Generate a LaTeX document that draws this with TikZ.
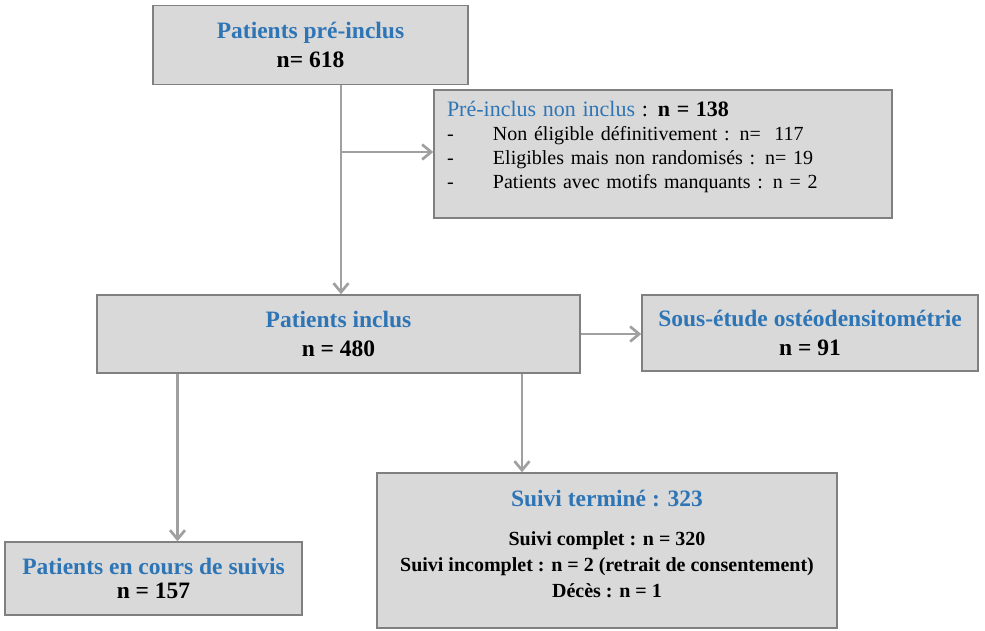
\documentclass[tikz,border=0pt]{standalone}
\usepackage{fontspec}
\setmainfont{Liberation Serif}
\usetikzlibrary{arrows.meta}
\definecolor{titleblue}{HTML}{2E75B6}
\definecolor{boxfill}{HTML}{D9D9D9}
\definecolor{boxline}{HTML}{808080}
\definecolor{arrowgray}{HTML}{A0A0A0}
\newcommand{\titre}[1]{\textcolor{titleblue}{\bfseries #1}}

\begin{document}
\begin{tikzpicture}[x=1pt,y=-1pt,>={Straight Barb[length=9pt,width=15pt]},
  box/.style={draw=boxline,fill=boxfill,line width=1.5pt,align=center,inner sep=0pt,
    font=\fontsize{23.5}{29}\selectfont\bfseries},
  arr/.style={->,draw=arrowgray,line width=2.7pt}]
  \useasboundingbox (0,0) rectangle (985,630);
  \node[box,minimum width=315pt,minimum height=79pt] (pre) at (310.5,45)
    {\titre{Patients pré-inclus}\\n= 618};
  \node[box,minimum height=128pt,text width=432pt,inner xsep=13pt,align=left,
    font=\fontsize{20}{24}\selectfont] (exclus) at (663,154)
    {{\fontsize{22}{26}\selectfont\textcolor{titleblue}{Pré-inclus non inclus} : \textbf{n = 138}}\\
     \makebox[46pt][l]{-}Non éligible définitivement : n=~ 117\\
     \makebox[46pt][l]{-}Eligibles mais non randomisés : n= 19\\
     \makebox[46pt][l]{-}Patients avec motifs manquants : n = 2\\[-6pt]
     \mbox{}};
  \node[box,minimum width=483pt,minimum height=78pt] (inclus) at (338.5,334)
    {\titre{Patients inclus}\\n = 480};
  \node[box,minimum width=336pt,minimum height=76pt] (osteo) at (810,333)
    {\titre{Sous-étude ostéodensitométrie}\\n = 91};
  \node[box,minimum width=297pt,minimum height=73pt,
    font=\fontsize{23.5}{24}\selectfont\bfseries] (encours) at (153.5,578.5)
    {\titre{Patients en cours de suivis}\\n = 157};
  \node[box,minimum width=460pt,minimum height=155pt,
    font=\fontsize{20}{26}\selectfont\bfseries] (fini) at (607,550.5)
    {{\fontsize{23.5}{29}\selectfont\titre{Suivi terminé : 323}}\\[13pt]
     Suivi complet : n = 320\\
     Suivi incomplet : n = 2 (retrait de consentement)\\
     Décès : n = 1\\[-12pt]
     \mbox{}};
  % connecteurs
  \coordinate (split) at ([xshift=30.5pt]pre.south |- 0,152);
  \draw[arr] ([xshift=30.5pt]pre.south) -- ([xshift=30.5pt]pre.south |- inclus.north);
  \draw[arr] (split) -- (split -| exclus.west);
  \draw[arr] (inclus.east) -- (inclus.east -| osteo.west);
  \draw[arr] ([xshift=-161pt]inclus.south) -- ([xshift=-161pt]inclus.south |- encours.north);
  \draw[arr] ([xshift=183.5pt]inclus.south) -- ([xshift=183.5pt]inclus.south |- fini.north);
\end{tikzpicture}
\end{document}
